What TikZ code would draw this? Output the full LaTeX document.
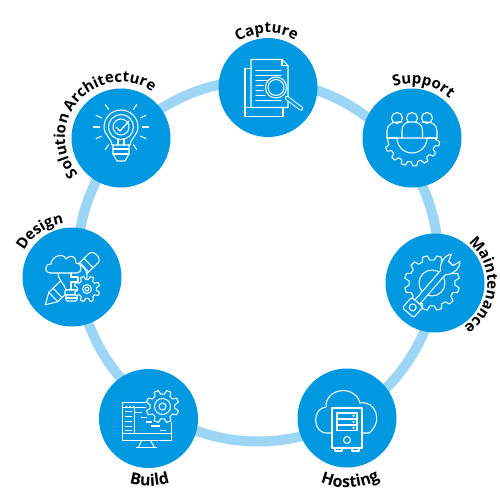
\documentclass[tikz,border=0pt]{standalone}
\usepackage{fontspec}
\setmainfont{Open Sans}
\usetikzlibrary{decorations.text,calc}
\definecolor{hubblue}{HTML}{0098E1}
\definecolor{ringblue}{HTML}{9CD6F4}
\newcommand{\labfont}{\bfseries\fontsize{15}{15}\selectfont}
\newcommand{\labfontb}{\bfseries\fontsize{16}{16}\selectfont}
\newcommand{\curvelab}[5]{% node, radius, mid angle, half span (signed), text
  \path[decorate,decoration={text along path,text={|\labfont|#5},text align={center}}]
    (#1.center) ++({#3+#4}:#2) arc[start angle={#3+#4},end angle={#3-#4},radius=#2];}
\newcommand{\curvelabb}[5]{%
  \path[decorate,decoration={text along path,text={|\labfontb|#5},text align={center}}]
    (#1.center) ++({#3+#4}:#2) arc[start angle={#3+#4},end angle={#3-#4},radius=#2];}
\newcommand{\gearpts}[3]{% root r, outer r, angle list; step in \gs
  \foreach \t in {#3}{
    -- ({\t-0.32*\gs}:#1) -- ({\t-0.17*\gs}:#2) -- ({\t+0.17*\gs}:#2) -- ({\t+0.32*\gs}:#1)}}
\tikzset{
  hub/.style={circle,fill=hubblue,minimum size=99pt,inner sep=0pt},
  icon/.style={draw=white,line width=1.05pt,line join=round,line cap=round},
  ringline/.style={draw=ringblue,line width=10pt},
  mask/.style={fill=hubblue}
}
\begin{document}
\begin{tikzpicture}[x=1pt,y=1pt]
\useasboundingbox (0,0) rectangle (500,-500);
\fill[white] (0,0) rectangle (500,-500);
\coordinate (ringc) at (258,-261);
\draw[ringline] (ringc) circle[radius=180.5];
\node[hub] (capture) at (268,-87.5) {};
\node[hub] (support) at (412,-138) {};
\node[hub] (maint) at (435,-283) {};
\node[hub] (hosting) at (347,-418) {};
\node[hub] (build) at (148.5,-418.5) {};
\node[hub] (design) at (72,-277) {};
\node[hub] (solution) at (121,-138) {};
% labels
\curvelab{capture}{54.5}{91.5}{80}{Capture}
\curvelab{support}{54.5}{78}{80}{Support}
\curvelab{maint}{52.5}{-3}{80}{Maintenance}
\curvelabb{hosting}{69.5}{273}{-80}{Hosting}
\curvelabb{build}{67.5}{271}{-60}{Build}
\curvelab{design}{54.5}{125}{80}{Design}
\curvelab{solution}{56}{138}{100}{Solution Architecture}
% --- Capture icon
\begin{scope}[shift={(capture.center)},yscale=-1]
  \draw[icon] (-17,20) -- (-23,20) -- (-23,-19) -- (-17,-19);
  \draw[icon] (-23,-19) -- (-23,29) -- (15,29) -- (15,20);
  \draw[icon] (-17,-28) -- (14,-28) -- (20,-22) -- (20,20) -- (-17,20) -- cycle;
  \draw[icon] (14,-28) -- (14,-22) -- (20,-22);
  \foreach \yy/\xx in {-17/13,-12/13,-7/2,-2/-5,3/-5,8/-3,13/13}
    \draw[icon] (-12,\yy) -- (\xx,\yy);
  \draw[icon,mask] (8,0) circle[radius=10.5];
  \draw[icon] (8,0) circle[radius=8];
  \draw[white,line width=4.4pt,line cap=round] (19,10.5) -- (33,21);
  \draw[hubblue,line width=2.4pt,line cap=round] (19,10.5) -- (33,21);
\end{scope}
% --- Support icon
\begin{scope}[shift={(support.center)},yscale=-1]
  \def\gs{24}
  \draw[icon] (15,0) -- (25,0) \gearpts{24}{28}{12,36,60,84,108,132,156} -- (-25,0) -- (-15,0)
     arc[start angle=180,end angle=0,radius=15] ;
  \draw[icon] (-15,-20) circle[radius=5.5];
  \draw[icon] (15,-20) circle[radius=5.5];
  \draw[icon] (-10,0) -- (-25,0) -- (-25,-7) .. controls (-25,-13) and (-20,-16) .. (-15,-16) -- (-10,-16);
  \draw[icon] (10.5,0) -- (25,0) -- (25,-7) .. controls (25,-13) and (20,-16) .. (15,-16) -- (10,-16);
  \draw[icon,mask] (0,-20) circle[radius=5.5];
  \draw[icon,mask] (-10,0) -- (-10,-8) .. controls (-10,-13) and (-6,-16) .. (-2,-16) -- (2,-16)
    .. controls (6,-16) and (10.5,-13) .. (10.5,-8) -- (10.5,0) -- cycle;
\end{scope}
% --- Maintenance icon
\begin{scope}[shift={(maint.center)},yscale=-1]
  \begin{scope}[shift={(-3,0)}]
    \def\gs{30}
    \draw[icon] (23,0) \gearpts{23}{27.5}{15,45,75,105,135,165,195,225,255,285,315,345} -- cycle;
    \draw[icon] (0,0) circle[radius=13];
  \end{scope}
  \begin{scope}[shift={(-2,1)},rotate=-49]
    \draw[icon,mask] (15,3.2) .. controls (19,8) and (29,11) .. (34.5,5.6) -- (27,3) -- (27,-3) -- (34.5,-5.6)
      .. controls (29,-11) and (19,-8) .. (15,-3.2) -- (-24,-3.2) -- (-24,3.2) -- cycle;
    \draw[icon,mask,rounded corners=1.5pt] (-38,-7.5) rectangle (-24,7.5);
    \draw[icon] (-31,0) circle[radius=3.5];
  \end{scope}
\end{scope}
% --- Hosting icon
\begin{scope}[shift={(hosting.center)},yscale=-1]
  \draw[icon] (-15,15) -- (-20,15) .. controls (-35,15) and (-35,-10) .. (-21,-11)
     .. controls (-22,-30) and (8,-34) .. (13,-15) .. controls (28,-18) and (37,3) .. (22,15) -- (15,15);
  \draw[icon,mask] (-15,-10) rectangle (15,30);
  \foreach \yy in {-5,1,7} {
    \draw[icon] (-10,\yy) rectangle (10,\yy+5.5);
    \draw[white,fill=white] (6.5,\yy+2.75) circle[radius=0.8];
  }
  \draw[icon] (0,22) circle[radius=3.5];
  \draw[icon] (-12,30) -- (-12,33) -- (-5,33) -- (-5,30);
  \draw[icon] (5,30) -- (5,33) -- (12,33) -- (12,30);
\end{scope}
% --- Build icon
\begin{scope}[shift={(build.center)},yscale=-1]
  \draw[icon] (1,-16) -- (-26,-16) -- (-26,22) -- (23,22) -- (23,4);
  \draw[icon] (-26,15) -- (23,15);
  \draw[icon] (-26,-11) -- (-3,-11);
  \foreach \xx in {-22,-18.5,-15} \fill[white] (\xx,-12) circle[radius=0.8];
  \draw[icon] (-14,-10) -- (-14,15);
  \foreach \yy in {-7,-2,3,8,12} \draw[icon] (-23,\yy) -- (-17,\yy);
  \draw[icon] (-13,-6) -- (-7,-6);
  \draw[icon] (-7,-1) -- (-2,-1);
  \draw[icon] (-2,3.5) -- (3,3.5);
  \draw[icon] (3,7.5) -- (11,7.5);
  \draw[icon] (12,12) -- (17,12);
  \draw[icon] (-7,22) -- (-10,29);
  \draw[icon] (2,22) -- (6,29);
  \draw[icon] (-12,29) -- (8,29);
  \begin{scope}[shift={(14,-12)}]
    \def\gs{45}
    \draw[icon,mask] (12,0) \gearpts{12.5}{16.5}{22.5,67.5,112.5,157.5,202.5,247.5,292.5,337.5} -- cycle;
    \draw[icon] (0,0) circle[radius=8];
    \draw[icon] (0,0) circle[radius=3.5];
  \end{scope}
\end{scope}
% --- Design icon
\begin{scope}[shift={(design.center)},yscale=-1]
  \begin{scope}[shift={(0,2)},rotate=-44]
    \draw[icon] (-37,0) -- (-26,-6.5) -- (30,-6.5) .. controls (36,-6.5) and (36,6.5) .. (30,6.5) -- (-26,6.5) -- cycle;
    \draw[icon] (-26,-6.5) -- (-26,6.5);
    \draw[icon] (-20,-6.5) -- (-20,6.5);
    \draw[icon] (17,-6.5) -- (17,6.5);
    \draw[icon] (23,-6.5) -- (23,6.5);
  \end{scope}
  \draw[icon,mask] (-6,13) .. controls (-8,6) and (-14,3) .. (-14,-4) -- (6,-13) .. controls (16,-10) and (20,5) .. (6,13) -- cycle;
  \draw[icon,mask] (-22,-4) .. controls (-28,-4) and (-28,-13) .. (-21,-13)
     .. controls (-20,-22) and (-8,-24) .. (-6,-18)
     .. controls (-1,-24) and (5,-19) .. (4,-14)
     .. controls (10,-15) and (11,-4) .. (5,-4) -- cycle;
  \draw[icon] (-1,-4) -- (-1,0) -- (6,0) -- (6,5) -- (-1,5) -- (-1,13);
  \draw[icon,mask,rounded corners=1pt] (-7,13) rectangle (6,18);
  \draw[icon,mask,rounded corners=1pt] (-6,18) rectangle (5,24);
  \draw[icon] (-6,21) -- (5,21);
  \begin{scope}[shift={(15,12)}]
    \def\gs{45}
    \draw[icon,mask] (9.5,0) \gearpts{9.5}{13}{22.5,67.5,112.5,157.5,202.5,247.5,292.5,337.5} -- cycle;
    \draw[icon] (0,0) circle[radius=4.5];
    \draw[icon] (0,0) circle[radius=2];
  \end{scope}
\end{scope}
% --- Solution icon
\begin{scope}[shift={(solution.center)},yscale=-1]
  \draw[icon] (-9,7) .. controls (-9,1) and (-17,-3) .. (-17,-11)
     arc[start angle=180,end angle=360,radius=17]
     .. controls (17,-3) and (9,1) .. (9,7) -- cycle;
  \draw[icon] (0,-11) circle[radius=12.5];
  \draw[icon] (0,-11) circle[radius=8];
  \draw[icon,line width=1.3pt] (-5,-11) -- (-1,-7) -- (8,-17);
  \draw[icon] (-3,1) -- (-3,7);
  \draw[icon] (3,1) -- (3,7);
  \draw[icon] (-8,7) -- (-8,16) -- (-4,23) -- (4,23) -- (8,16) -- (8,7);
  \draw[icon] (-8,11) -- (8,11);
  \draw[icon] (-8,16) -- (8,16);
  \foreach \aa in {0,25,-25,55,-55,180,155,205,125,235}
    \draw[icon] ($(0,-11)+(\aa:21.5)$) -- ($(0,-11)+(\aa:27.5)$);
\end{scope}
\end{tikzpicture}
\end{document}
